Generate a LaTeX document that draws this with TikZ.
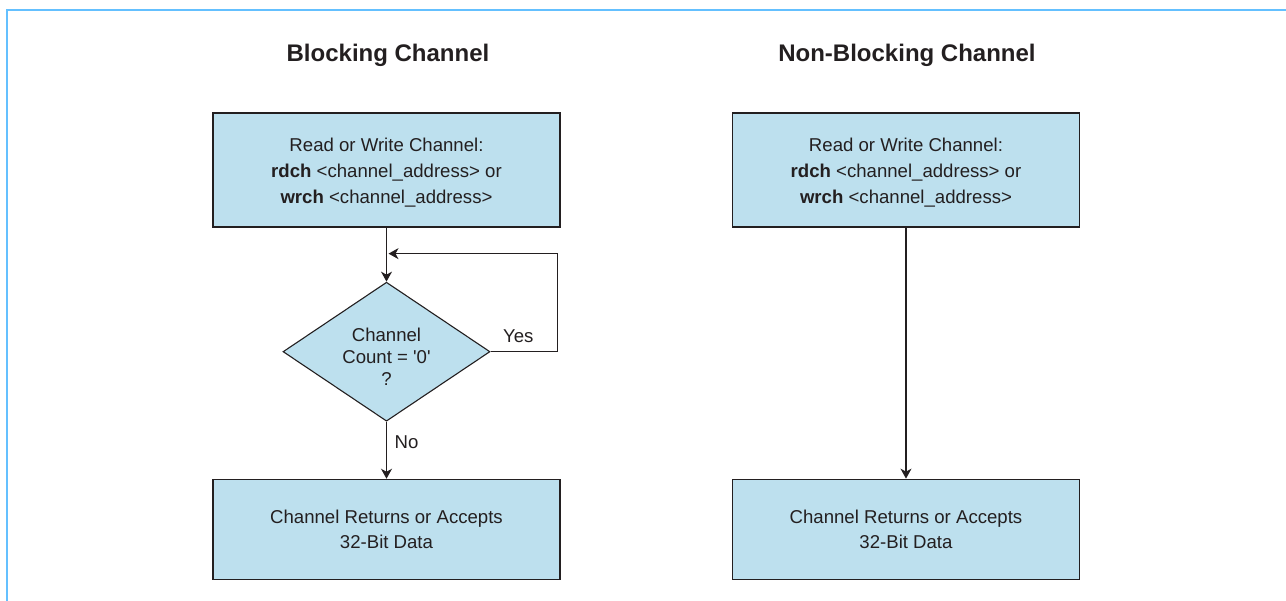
\documentclass[tikz,border=0pt]{standalone}
\usepackage{fontspec}
\setmainfont{Liberation Sans}
\usetikzlibrary{arrows.meta,positioning,shapes.geometric}
\definecolor{ChanBlue}{RGB}{189,224,238}
\definecolor{FrameBlue}{RGB}{100,192,255}
\definecolor{InkGray}{RGB}{35,31,32}

\begin{document}
\begin{tikzpicture}[x=1pt,y=1pt,
box/.style={draw=InkGray,line width=1.3pt,fill=ChanBlue,minimum width=347pt,minimum height=100pt,align=center,font=\fontsize{18.6}{25}\selectfont,text=InkGray},
tallbox/.style={box,minimum height=114pt,font=\fontsize{18.6}{26}\selectfont,text height=70pt},
dec/.style={diamond,draw=InkGray,line width=1.1pt,fill=ChanBlue,minimum width=207pt,minimum height=139pt,aspect=1.49,inner sep=0pt,align=center,font=\fontsize{18.6}{22}\selectfont,text=InkGray,text height=67pt},
arr/.style={-{Stealth[length=10pt,width=11pt,inset=3pt]},line width=1.2pt,draw=InkGray},
lbl/.style={inner sep=0pt,font=\fontsize{18.6}{25}\selectfont,text=InkGray},
ttl/.style={font=\fontsize{24}{28}\selectfont\bfseries,text=InkGray}
]
\useasboundingbox (0,0) rectangle (1286,601);
\draw[FrameBlue,line width=2pt] (7,0) |- (1286,591);
% titles
\node[ttl,anchor=base] (tb) at (388,539) {Blocking Channel};
\node[ttl,anchor=base] (tn) at (907,539) {Non-Blocking Channel};
% blocking side
\node[tallbox] (rw) at (386.5,431) {Read or Write Channel:\\\textbf{rdch} <channel\_address> or\\\textbf{wrch} <channel\_address>};
\node[dec,below=54pt of rw] (cnt) {Channel\\Count = \textquotesingle0\textquotesingle\\?};
\node[box,below=57pt of cnt] (ret) {Channel Returns or Accepts\\32-Bit Data};
\coordinate (back) at ([xshift=2pt,yshift=-26pt]rw.south);
% non-blocking side
\node[tallbox] (rwn) at (906,431) {Read or Write Channel:\\\textbf{rdch} <channel\_address> or\\\textbf{wrch} <channel\_address>};
\node[box,below=251pt of rwn] (retn) {Channel Returns or Accepts\\32-Bit Data};
\draw[arr] (rw)--(cnt);
\draw[arr] (cnt)--node[lbl,at start,anchor=base west,xshift=7.5pt,yshift=-27pt]{No}(ret);
\draw[arr] (cnt.east)--++(67,0) node[lbl,pos=0,anchor=base west,xshift=12pt,yshift=9pt]{Yes} |- (back);
\draw[arr] (rwn)--(retn);
\end{tikzpicture}
\end{document}
